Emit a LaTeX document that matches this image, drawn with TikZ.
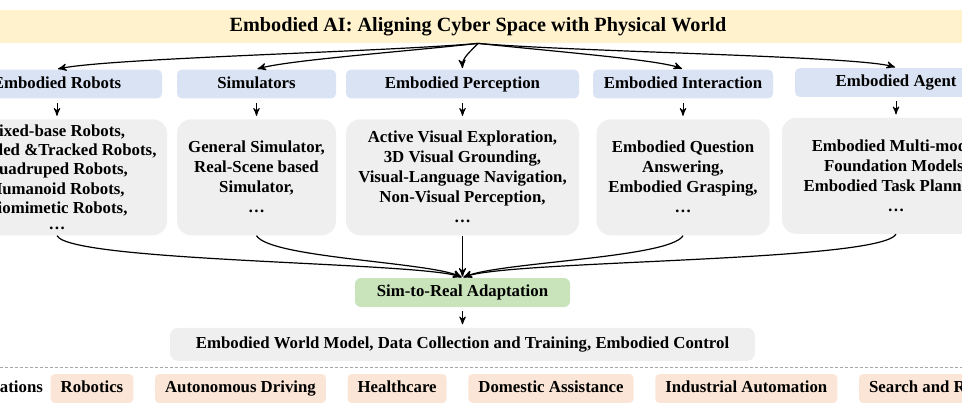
\documentclass[tikz,border=0pt]{standalone}
\usepackage{fontspec}
\setmainfont{Liberation Serif}
\usetikzlibrary{arrows,positioning}
\definecolor{bandyellow}{HTML}{FFF2CC}
\definecolor{catblue}{HTML}{DAE3F3}
\definecolor{detgray}{HTML}{EFEFEF}
\definecolor{s2rgreen}{HTML}{C9E3BA}
\definecolor{apppeach}{HTML}{FBE5D6}
\tikzset{
    titleband/.style={
        rectangle,
        fill=bandyellow,
        minimum width=520pt,
        minimum height=16.5pt,
        font=\fontsize{10.1}{12}\selectfont\bfseries
    },
    catbox/.style={
        rectangle,
        rounded corners=2.5pt,
        fill=catblue,
        minimum height=13pt,
        inner xsep=2pt,
        text height=6pt,
        text depth=1.8pt,
        font=\fontsize{8.4}{10}\selectfont\bfseries
    },
    detbox/.style={
        rectangle,
        rounded corners=7pt,
        fill=detgray,
        minimum height=58pt,
        inner xsep=2pt,
        inner ysep=0.5pt,
        align=center,
        font=\fontsize{8.4}{10}\selectfont\bfseries
    },
    s2rbox/.style={
        rectangle,
        rounded corners=3pt,
        fill=s2rgreen,
        minimum width=107.5pt,
        minimum height=14.5pt,
        font=\fontsize{8.4}{10}\selectfont\bfseries
    },
    ctrlbox/.style={
        rectangle,
        rounded corners=4pt,
        fill=detgray,
        minimum width=292.5pt,
        minimum height=16.5pt,
        font=\fontsize{8.4}{10}\selectfont\bfseries
    },
    appbox/.style={
        rectangle,
        rounded corners=2pt,
        fill=apppeach,
        minimum height=13.5pt,
        inner xsep=5pt,
        text height=6pt,
        text depth=1.8pt,
        font=\fontsize{8.4}{10}\selectfont\bfseries
    },
    applabel/.style={
        inner sep=0pt,
        text height=6pt,
        text depth=1.8pt,
        font=\fontsize{8.4}{10}\selectfont\bfseries
    },
    link/.style={
        ->,
        line width=0.6pt,
        shorten >=0.5pt
    },
    flow/.style={
        ->,
        line width=0.5pt,
        shorten <=2pt,
        shorten >=1.5pt
    },
    sepline/.style={
        gray!70,
        line width=0.4pt,
        dash pattern=on 1.5pt off 1pt
    }
}
\begin{document}
\begin{tikzpicture}[x=0.5pt,y=-0.5pt,>=stealth']
    \useasboundingbox (0,0) rectangle (962,409);
    \clip (0,0) rectangle (962,409);
    \node [titleband] (title) at (478,26.5) {Embodied AI: Aligning Cyber Space with Physical World};

    \node [catbox,minimum width=105pt] (cRob) at (57,84) {Embodied Robots};
    \node [catbox,minimum width=79.5pt] (cSim) at (256.5,84) {Simulators};
    \node [catbox,minimum width=116.5pt] (cPer) at (462.5,84) {Embodied Perception};
    \node [catbox,minimum width=90pt] (cInt) at (683,84) {Embodied Interaction};
    \node [catbox,minimum width=101pt] (cAgt) at (896,82.5) {Embodied Agent};

    \node [detbox,minimum width=110pt,font=\fontsize{8.4}{9.6}\selectfont\bfseries] (dRob) [below=10pt of cRob]
        {Fixed-base Robots,\\ Wheeled \&Tracked Robots,\\ Quadruped Robots,\\ Humanoid Robots,\\ Biomimetic Robots,\\[-1.5pt] …};
    \node [detbox,minimum width=79.5pt] (dSim) [below=10pt of cSim]
        {General Simulator,\\ Real-Scene based\\ Simulator,\\ …};
    \node [detbox,minimum width=116.5pt] (dPer) [below=10pt of cPer]
        {Active Visual Exploration,\\ 3D Visual Grounding,\\ Visual-Language Navigation,\\ Non-Visual Perception,\\ …};
    \node [detbox,minimum width=86.5pt] (dInt) [below=10pt of cInt]
        {Embodied Question\\ Answering,\\ Embodied Grasping,\\ …};
    \node [detbox,minimum width=114pt] (dAgt) [below=10pt of cAgt]
        {Embodied Multi-modal\\ Foundation Models,\\ Embodied Task Planning,\\ …};

    \node [s2rbox] (s2r) at (462.5,292.5) {Sim-to-Real Adaptation};
    \node [ctrlbox] (ctrl) [below=10pt of s2r] {Embodied World Model, Data Collection and Training, Embodied Control};

    \coordinate (sepL) at (0,367);
    \coordinate (sepR) at (962,367);
    \draw [sepline] (sepL) -- (sepR);

    \node [appbox] (aRob) at (92,388.5) {Robotics};
    \node [applabel] (aLab) [left=3.5pt of aRob] {Applications};
    \node [appbox] (aAut) [right=10.5pt of aRob] {Autonomous Driving};
    \node [appbox] (aHea) [right=10.5pt of aAut] {Healthcare};
    \node [appbox] (aDom) [right=10.5pt of aHea] {Domestic Assistance};
    \node [appbox] (aInd) [right=10.5pt of aDom] {Industrial Automation};
    \node [appbox] (aSea) [right=10.5pt of aInd] {Search and Rescue};

    \draw [link] (title.south) .. controls (380,52) and (110,58) .. (cRob.north);
    \draw [link] (title.south) .. controls (400,52) and (290,60) .. (cSim.north);
    \draw [link] (title.south) .. controls (470,52) and (462,58) .. (cPer.north);
    \draw [link] (title.south) .. controls (560,52) and (660,60) .. (cInt.north);
    \draw [link] (title.south) .. controls (580,52) and (860,56) .. (cAgt.north);

    \draw [flow] (cRob) -- (dRob);
    \draw [flow] (cSim) -- (dSim);
    \draw [flow] (cPer) -- (dPer);
    \draw [flow] (cInt) -- (dInt);
    \draw [flow] (cAgt) -- (dAgt);

    \draw [link] (dRob.south) .. controls (70,262) and (420,262) .. (s2r.north);
    \draw [link] (dSim.south) .. controls (270,258) and (430,262) .. (s2r.north);
    \draw [link] (dPer.south) -- (s2r.north);
    \draw [link] (dInt.south) .. controls (670,258) and (500,262) .. (s2r.north);
    \draw [link] (dAgt.south) .. controls (880,262) and (510,260) .. (s2r.north);

    \draw [flow] (s2r) -- (ctrl);
\end{tikzpicture}
\end{document}
